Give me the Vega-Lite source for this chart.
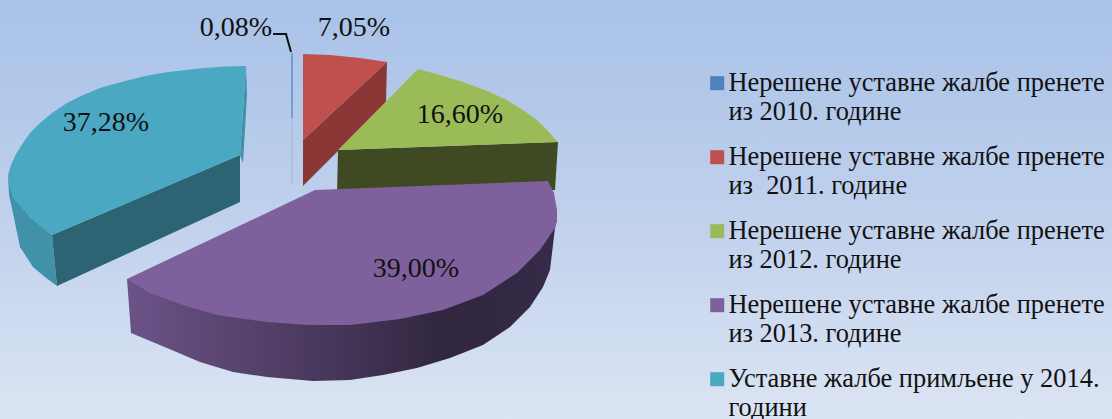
{"$schema":"https://vega.github.io/schema/vega-lite/v6.json","width":1112,"height":419,"padding":0,"autosize":{"type":"fit","contains":"padding"},"background":"#c5d5ee","view":{"stroke":null,"fill":{"gradient":"linear","x1":0,"y1":0,"x2":0,"y2":1,"stops":[{"offset":0,"color":"#a8c2e8"},{"offset":0.5,"color":"#bfd0ec"},{"offset":1,"color":"#dbe4f3"}]}},"datasets":{"outline":[
{"year":"2014","part":"front","i":0,"x":52,"y":235},{"year":"2014","part":"front","i":1,"x":240,"y":155},{"year":"2014","part":"front","i":2,"x":240,"y":202},{"year":"2014","part":"front","i":3,"x":57,"y":286},
{"year":"2014","part":"outer","i":0,"x":8,"y":175},{"year":"2014","part":"outer","i":1,"x":13,"y":197},{"year":"2014","part":"outer","i":2,"x":30,"y":217},{"year":"2014","part":"outer","i":3,"x":52,"y":235},{"year":"2014","part":"outer","i":4,"x":57,"y":286},{"year":"2014","part":"outer","i":5,"x":45,"y":277},{"year":"2014","part":"outer","i":6,"x":33,"y":267},{"year":"2014","part":"outer","i":7,"x":20,"y":247},{"year":"2014","part":"outer","i":8,"x":13,"y":213},{"year":"2014","part":"outer","i":9,"x":9,"y":195},
{"year":"2014","part":"edge","i":0,"x":246,"y":66},{"year":"2014","part":"edge","i":1,"x":247,"y":95},{"year":"2014","part":"edge","i":2,"x":243,"y":163},{"year":"2014","part":"edge","i":3,"x":240,"y":155},
{"year":"2014","part":"top","i":0,"x":246,"y":66},{"year":"2014","part":"top","i":1,"x":225,"y":66.5},{"year":"2014","part":"top","i":2,"x":205,"y":68},{"year":"2014","part":"top","i":3,"x":185,"y":70},{"year":"2014","part":"top","i":4,"x":165,"y":72.5},{"year":"2014","part":"top","i":5,"x":145,"y":76},{"year":"2014","part":"top","i":6,"x":125,"y":81},{"year":"2014","part":"top","i":7,"x":100,"y":88},{"year":"2014","part":"top","i":8,"x":83,"y":95},{"year":"2014","part":"top","i":9,"x":67,"y":103},{"year":"2014","part":"top","i":10,"x":52,"y":113},{"year":"2014","part":"top","i":11,"x":40,"y":123},{"year":"2014","part":"top","i":12,"x":30,"y":133},{"year":"2014","part":"top","i":13,"x":23,"y":143},{"year":"2014","part":"top","i":14,"x":16,"y":154},{"year":"2014","part":"top","i":15,"x":11,"y":165},{"year":"2014","part":"top","i":16,"x":8,"y":175},{"year":"2014","part":"top","i":17,"x":9,"y":185},{"year":"2014","part":"top","i":18,"x":13,"y":197},{"year":"2014","part":"top","i":19,"x":20,"y":206},{"year":"2014","part":"top","i":20,"x":30,"y":217},{"year":"2014","part":"top","i":21,"x":40,"y":226},{"year":"2014","part":"top","i":22,"x":52,"y":235},{"year":"2014","part":"top","i":23,"x":240,"y":155},
{"year":"2010","part":"top","i":0,"x":291.4,"y":53},{"year":"2010","part":"top","i":1,"x":292.6,"y":53},{"year":"2010","part":"top","i":2,"x":292.6,"y":118},{"year":"2010","part":"top","i":3,"x":291.4,"y":118},
{"year":"2010","part":"low","i":0,"x":291.4,"y":118},{"year":"2010","part":"low","i":1,"x":292.6,"y":118},{"year":"2010","part":"low","i":2,"x":292.6,"y":185},{"year":"2010","part":"low","i":3,"x":291.4,"y":185},
{"year":"2011","part":"front","i":0,"x":303,"y":140},{"year":"2011","part":"front","i":1,"x":387,"y":62},{"year":"2011","part":"front","i":2,"x":386,"y":103},{"year":"2011","part":"front","i":3,"x":303,"y":186},
{"year":"2011","part":"top","i":0,"x":303,"y":54},{"year":"2011","part":"top","i":1,"x":330,"y":55},{"year":"2011","part":"top","i":2,"x":360,"y":58},{"year":"2011","part":"top","i":3,"x":387,"y":62},{"year":"2011","part":"top","i":4,"x":303,"y":140},
{"year":"2012","part":"front","i":0,"x":338,"y":150},{"year":"2012","part":"front","i":1,"x":558,"y":142},{"year":"2012","part":"front","i":2,"x":555,"y":190},{"year":"2012","part":"front","i":3,"x":337,"y":195},
{"year":"2012","part":"top","i":0,"x":418,"y":69},{"year":"2012","part":"top","i":1,"x":440,"y":75},{"year":"2012","part":"top","i":2,"x":463,"y":82},{"year":"2012","part":"top","i":3,"x":485,"y":90},{"year":"2012","part":"top","i":4,"x":507,"y":100},{"year":"2012","part":"top","i":5,"x":523,"y":110},{"year":"2012","part":"top","i":6,"x":537,"y":120},{"year":"2012","part":"top","i":7,"x":548,"y":131},{"year":"2012","part":"top","i":8,"x":558,"y":142},{"year":"2012","part":"top","i":9,"x":338,"y":150},
{"year":"2013","part":"side","i":0,"x":127,"y":279},{"year":"2013","part":"side","i":1,"x":557,"y":220},{"year":"2013","part":"side","i":2,"x":555,"y":228},{"year":"2013","part":"side","i":3,"x":550,"y":270},{"year":"2013","part":"side","i":4,"x":543,"y":287},{"year":"2013","part":"side","i":5,"x":530,"y":307},{"year":"2013","part":"side","i":6,"x":510,"y":327},{"year":"2013","part":"side","i":7,"x":483,"y":345},{"year":"2013","part":"side","i":8,"x":450,"y":358},{"year":"2013","part":"side","i":9,"x":417,"y":368},{"year":"2013","part":"side","i":10,"x":383,"y":375},{"year":"2013","part":"side","i":11,"x":350,"y":380},{"year":"2013","part":"side","i":12,"x":313,"y":381},{"year":"2013","part":"side","i":13,"x":267,"y":377},{"year":"2013","part":"side","i":14,"x":233,"y":372},{"year":"2013","part":"side","i":15,"x":200,"y":362},{"year":"2013","part":"side","i":16,"x":167,"y":348},{"year":"2013","part":"side","i":17,"x":131,"y":333},
{"year":"2013","part":"top","i":0,"x":315,"y":190},{"year":"2013","part":"top","i":1,"x":548,"y":181},{"year":"2013","part":"top","i":2,"x":554,"y":193},{"year":"2013","part":"top","i":3,"x":557,"y":210},{"year":"2013","part":"top","i":4,"x":557,"y":220},{"year":"2013","part":"top","i":5,"x":555,"y":228},{"year":"2013","part":"top","i":6,"x":540,"y":250},{"year":"2013","part":"top","i":7,"x":517,"y":273},{"year":"2013","part":"top","i":8,"x":483,"y":295},{"year":"2013","part":"top","i":9,"x":443,"y":310},{"year":"2013","part":"top","i":10,"x":400,"y":319},{"year":"2013","part":"top","i":11,"x":350,"y":325},{"year":"2013","part":"top","i":12,"x":307,"y":325},{"year":"2013","part":"top","i":13,"x":267,"y":322},{"year":"2013","part":"top","i":14,"x":217,"y":315},{"year":"2013","part":"top","i":15,"x":183,"y":305},{"year":"2013","part":"top","i":16,"x":150,"y":293},{"year":"2013","part":"top","i":17,"x":127,"y":279}],
"shares":[{"year":"2010","share":"0,08%","x":236,"y":28},{"year":"2011","share":"7,05%","x":354,"y":28},{"year":"2012","share":"16,60%","x":460,"y":115},{"year":"2013","share":"39,00%","x":416,"y":269},{"year":"2014","share":"37,28%","x":106,"y":123}],
"leader":[{"i":0,"x":273,"y":34},{"i":1,"x":286,"y":34},{"i":2,"x":291,"y":52}]},
"encoding":{"x":{"field":"x","type":"quantitative","axis":null,"scale":{"domain":[0,1112],"nice":false,"zero":false}},"y":{"field":"y","type":"quantitative","axis":null,"scale":{"domain":[419,0],"nice":false,"zero":false}}},
"layer":[
{"data":{"name":"outline"},"transform":[{"filter":"datum.year=='2014'&&datum.part=='outer'"}],"mark":{"type":"line","strokeWidth":0,"fill":"#4191a9"},"encoding":{"order":{"field":"i"}}},
{"data":{"name":"outline"},"transform":[{"filter":"datum.year=='2014'&&datum.part=='edge'"}],"mark":{"type":"line","strokeWidth":0,"fill":"#4191a9"},"encoding":{"order":{"field":"i"}}},
{"data":{"name":"outline"},"transform":[{"filter":"datum.year=='2014'&&datum.part=='front'"}],"mark":{"type":"line","strokeWidth":0,"fill":"#2c6474"},"encoding":{"order":{"field":"i"}}},
{"data":{"name":"outline"},"transform":[{"filter":"datum.part=='low'"}],"mark":{"type":"line","strokeWidth":0,"fill":"#a5b9d8"},"encoding":{"order":{"field":"i"}}},
{"data":{"name":"outline"},"transform":[{"filter":"datum.year=='2011'&&datum.part=='front'"}],"mark":{"type":"line","strokeWidth":0,"fill":"#8a3735"},"encoding":{"order":{"field":"i"}}},
{"data":{"name":"outline"},"transform":[{"filter":"datum.year=='2012'&&datum.part=='front'"}],"mark":{"type":"line","strokeWidth":0,"fill":"#3f4a22"},"encoding":{"order":{"field":"i"}}},
{"data":{"name":"outline"},"transform":[{"filter":"datum.part=='side'"}],"mark":{"type":"line","strokeWidth":0,"fill":{"gradient":"linear","x1":0,"y1":0,"x2":1,"y2":0,"stops":[{"offset":0,"color":"#6b5388"},{"offset":0.4,"color":"#4d3b62"},{"offset":0.75,"color":"#30263f"},{"offset":1,"color":"#362b48"}]}},"encoding":{"order":{"field":"i"}}},
{"data":{"name":"outline"},"transform":[{"filter":"datum.part=='top'"}],"mark":{"type":"line","strokeWidth":0},"encoding":{"order":{"field":"i"},"fill":{"field":"year","type":"nominal","scale":{"domain":["2010","2011","2012","2013","2014"],"range":["#4f81bd","#c0504d","#9bbb59","#7e619c","#4aa8c3"]},"legend":{"title":null,"orient":"none","legendX":704,"legendY":70,"symbolType":"square","symbolSize":196,"symbolStrokeWidth":0,"labelFont":"Liberation Serif","labelFontSize":26.4,"labelColor":"#111111","labelLimit":420,"labelOffset":-2,"labelLineHeight":31,"rowPadding":19,"labelExpr":"datum.value=='2014'?['Уставне жалбе примљене у 2014.','години']:['Нерешене уставне жалбе пренете',(datum.value=='2011'?'из \u00a0':'из ')+datum.value+'. године']"}}}},
{"data":{"name":"leader"},"mark":{"type":"line","stroke":"#111111","strokeWidth":2},"encoding":{"order":{"field":"i"}}},
{"data":{"name":"shares"},"mark":{"type":"text","font":"Liberation Serif","fontSize":28,"color":"#111111","align":"center","baseline":"middle"},"encoding":{"text":{"field":"share"}}}
]}
